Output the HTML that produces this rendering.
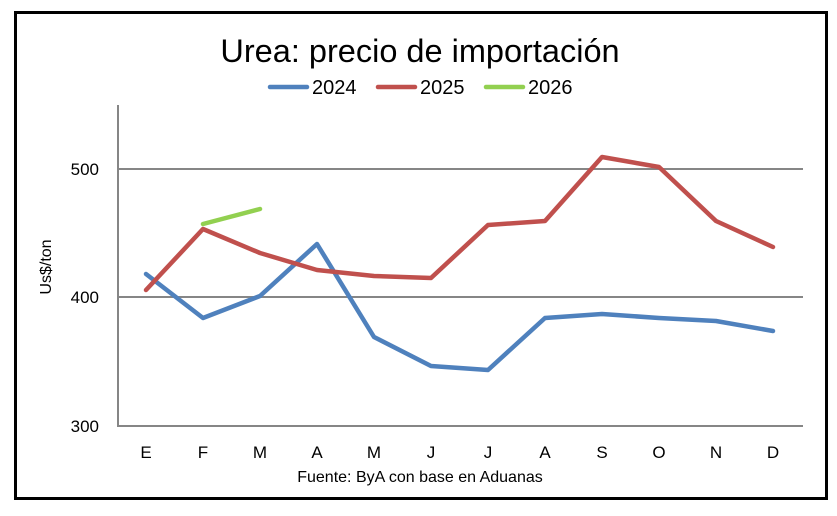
<!DOCTYPE html>
<html><head><meta charset="utf-8"><style>body{margin:0;background:#fff}</style></head><body>
<svg width="837" height="511" xmlns="http://www.w3.org/2000/svg" font-family="Liberation Sans, sans-serif">
<rect x="0" y="0" width="837" height="511" fill="#fff"/>
<rect x="15.5" y="12.5" width="811" height="486" fill="none" stroke="#000" stroke-width="3"/>
<text x="420" y="62" font-size="32.5" text-anchor="middle">Urea: precio de importación</text>
<g stroke-width="4.5" stroke-linecap="round">
<line x1="270" y1="87" x2="307" y2="87" stroke="#4f81bd"/>
<line x1="378" y1="87" x2="415" y2="87" stroke="#c0504d"/>
<line x1="486" y1="87" x2="523" y2="87" stroke="#92d050"/>
</g>
<g font-size="20"><text x="312" y="94">2024</text><text x="420" y="94">2025</text><text x="528" y="94">2026</text></g>
<g stroke="#868686" stroke-width="2">
<line x1="118" y1="105" x2="118" y2="427"/>
<line x1="118" y1="169" x2="803" y2="169"/>
<line x1="118" y1="297" x2="803" y2="297"/>
<line x1="118" y1="426" x2="803" y2="426"/>
</g>
<g font-size="17" text-anchor="end"><text x="99" y="175">500</text><text x="99" y="303">400</text><text x="99" y="432">300</text></g>
<text transform="translate(51,267) rotate(-90)" font-size="16" text-anchor="middle">Us$/ton</text>
<g font-size="17" text-anchor="middle">
<text x="146" y="458">E</text><text x="203" y="458">F</text><text x="260" y="458">M</text><text x="317" y="458">A</text><text x="374" y="458">M</text><text x="431" y="458">J</text><text x="488" y="458">J</text><text x="545" y="458">A</text><text x="602" y="458">S</text><text x="659" y="458">O</text><text x="716" y="458">N</text><text x="773" y="458">D</text>
</g>
<text x="420" y="482" font-size="16" text-anchor="middle">Fuente: ByA con base en Aduanas</text>
<g fill="none" stroke-width="4.5" stroke-linejoin="round" stroke-linecap="round">
<polyline stroke="#4f81bd" points="146,274 203,318 260,296 317,244 374,337 431,366 488,370 545,318 602,314 659,318 716,321 773,331"/>
<polyline stroke="#c0504d" points="146,290 203,229 260,253 317,270 374,276 431,278 488,225 545,221 602,157 659,167 716,221 773,247"/>
<polyline stroke="#92d050" points="203,224 260,209"/>
</g>
</svg>
</body></html>
